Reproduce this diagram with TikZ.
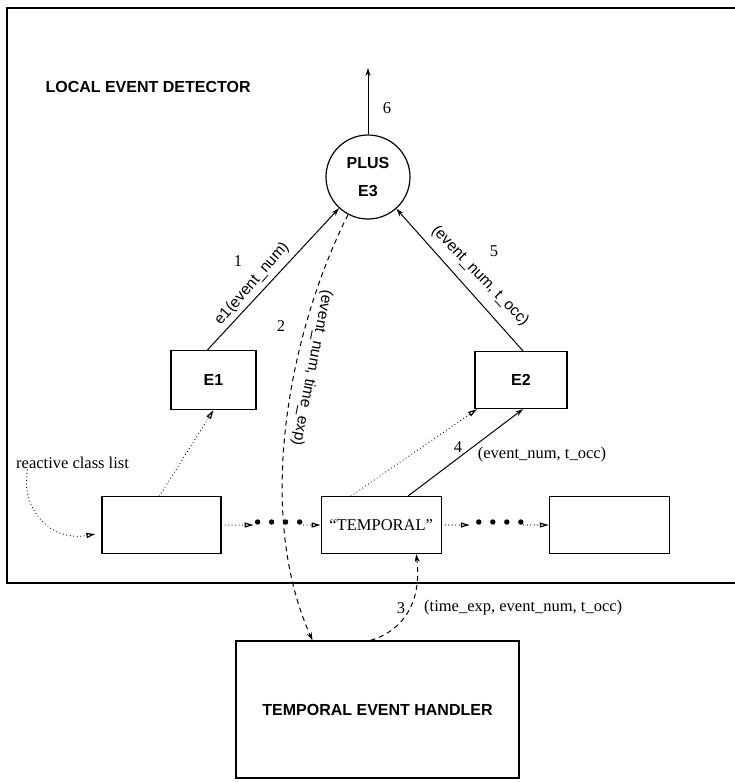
\documentclass[tikz,border=0pt]{standalone}
\usepackage{fontspec}
\setmainfont{Liberation Serif}
\setsansfont{Liberation Sans}
\usetikzlibrary{positioning, arrows.meta, shapes.geometric, calc}

\begin{document}
\begin{tikzpicture}[
  x=1pt, y=-1pt,
  %% Estilos
  frame/.style={draw, line width=1.5pt},
  box/.style={rectangle, draw, line width=1.2pt, inner sep=0pt,
              minimum width=#1, minimum height=57pt},
  hd/.style={font=\fontsize{16}{18}\selectfont\sffamily\bfseries},
  lab/.style={font=\fontsize{16.5}{18}\selectfont, inner sep=1pt},
  slab/.style={font=\fontsize{15.5}{17}\selectfont\sffamily, inner sep=1pt},
  num/.style={font=\fontsize{16.5}{18}\selectfont, inner sep=1pt},
  arr/.style={-{Stealth[length=8pt, width=5pt]}, line width=1pt},
  darr/.style={-{Stealth[length=8pt, width=5pt]}, line width=1pt,
               dash pattern=on 5pt off 4pt},
  dotarr/.style={-{Triangle[open, length=9pt, width=5pt]}, line width=1.2pt,
                 dash pattern=on 0pt off 3.5pt, line cap=round}
]
\useasboundingbox (0,0) rectangle (734,782);

%% ── Marco del detector ───────────────────────────────────────────────────
\draw[frame] (7,8) rectangle (737,583);
\node[hd, anchor=west] (titulo) at (42,87) {LOCAL EVENT DETECTOR};

%% ── Nodos ────────────────────────────────────────────────────────────────
\node[circle, draw, line width=1.2pt, minimum size=84pt, inner sep=0pt,
      hd, align=center] (plus) at (368,177) {PLUS\\[10pt]E3};

\node[box=85pt, minimum height=59pt, hd] (eone) at (213.5,380) {E1};
\node[box=92pt, hd] (etwo) at (521,380) {E2};

\node[box=119pt] (lst) at (161.5,525) {};
\node[box=120pt, right=99pt of lst, lab] (tmp) {``TEMPORAL''};
\node[box=120pt, right=107pt of tmp] (rgt) {};

\node[box=283pt, minimum height=137pt, hd] (teh) at (377.5,709.5)
  {TEMPORAL EVENT HANDLER};

\node[lab, anchor=west] (rcl) at (15,463) {reactive class list};

%% ── Flechas continuas ────────────────────────────────────────────────────
\coordinate (salida) at (368,68);
\draw[arr] (plus.north) -- (salida);
\node[num] (n6) at (387,108) {6};

\draw[arr] ([xshift=-6pt]eone.north) -- (plus);
\node[slab, rotate=49] (l1) at (252,284) {e1(event\_num)};
\node[num] (n1) at (238,261) {1};

\draw[arr] ([xshift=2pt]etwo.north) -- (plus);
\node[slab, rotate=-46] (l5) at (480,276) {(event\_num, t\_occ)};
\node[num] (n5) at (494,251) {5};

\draw[arr] ([xshift=27pt]tmp.north) -- ([xshift=2pt]etwo.south);
\node[num] (n4) at (458,447) {4};
\node[lab] (l4) at (542,455) {(event\_num, t\_occ)};

%% ── Flechas punteadas ────────────────────────────────────────────────────
\draw[dotarr] ([xshift=-2pt]lst.north) -- (eone.south);
\draw[dotarr] ([xshift=-30pt]tmp.north) -- ([xshift=-44pt]etwo.south);
\draw[dotarr] ([xshift=-45pt]rcl.south) .. controls (20,508) and (50,542) ..
  ([shift={(-6,9)}]lst.west);

\draw[dotarr] (lst.east) -- ++(32,0) coordinate (c1);
\foreach \k in {1,...,4}
  \fill ($(c1)+(14*\k-10,-3)$) circle (2.7pt);
\coordinate (c2) at ($(c1)+(50,0)$);
\draw[dotarr] (c2) -- (tmp.west);

\draw[dotarr] (tmp.east) -- ++(28,0) coordinate (c3);
\foreach \k in {1,...,4}
  \fill ($(c3)+(14*\k-5,-3)$) circle (2.7pt);
\coordinate (c4) at ($(c3)+(54,0)$);
\draw[dotarr] (c4) -- (rgt.west);

%% ── Flechas discontinuas (manejador temporal) ───────────────────────────
\draw[darr] (plus.242) .. controls (290,330) and (254,510) ..
  ([xshift=-65pt]teh.north);
\node[num] (n2) at (281,326) {2};
\node[slab, rotate=-101] (l2) at (312,368) {(event\_num, time\_exp)};

\draw[darr] ([xshift=-7pt]teh.north) .. controls (405,630) and (422,600) ..
  ([xshift=35pt]tmp.south);
\node[num] (n3) at (401,608) {3};
\node[lab, anchor=west] (l3) at (423,608) {(time\_exp, event\_num, t\_occ)};

\end{tikzpicture}
\end{document}
